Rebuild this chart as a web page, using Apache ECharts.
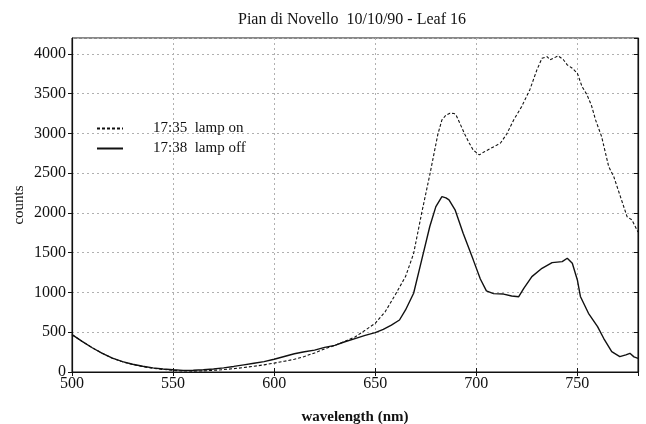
<!DOCTYPE html>
<html>
<head>
<meta charset="utf-8">
<script src="https://cdn.jsdelivr.net/npm/echarts@6/dist/echarts.min.js"></script>
<style>
html,body{margin:0;padding:0;background:#fff;}
#c{width:646px;height:424px;}
</style>
</head>
<body>
<div id="c"></div>
<script>
var titleText = 'Pian di Novello  10/10/90 - Leaf 16';
var seriesNames = ['17:35  lamp on', '17:38  lamp off'];

var wavelengthOn = [500,505,510,515,520,525,530,535,540,545,550,555,560,565,570,575,580,585,590,595,600,605,610,615,620,625,630,635,640,645,650,655,660,665,669,673,677,681,683,685,687,689,690,692,694.5,696.5,698.5,701.5,704,707,710,712,715,718.5,722.5,726.5,730,732.5,735,736.5,738.5,740.5,743,745,747.5,750,752.3,754.8,757,759,762,765.5,768,771.3,774.6,777,779.5,780];
var countsOn = [470,385,305,235,172,128,94,67,47,32,21,13,11,14,21,30,42,56,72,90,112,135,160,195,240,290,335,385,440,525,612,760,975,1200,1490,2000,2480,2990,3170,3230,3255,3250,3230,3120,2980,2880,2790,2730,2770,2810,2850,2880,2990,3170,3340,3550,3800,3945,3965,3925,3950,3975,3930,3862,3820,3757,3590,3484,3350,3170,2960,2583,2457,2205,1953,1912,1786,1760];

var wavelengthOff = [500,505,510,515,520,525,530,535,540,545,550,555,560,565,570,575,580,585,590,595,600,605,610,615,620,625,630,635,640,645,650,654,658,662,665,669,673,677,680,683,685,686.5,689.5,693.5,698.5,702,705,708.5,713.5,717.5,721,723.5,727.5,732.5,737.5,742.5,745,747.5,750,751.5,755.5,760,763,767,771,774,776,778,780];
var countsOff = [470,385,305,235,175,130,97,72,52,38,28,20,22,28,38,52,70,90,110,130,160,195,230,255,275,310,335,380,420,460,495,537,590,654,780,990,1410,1830,2080,2205,2190,2165,2040,1745,1410,1170,1020,985,980,956,947,1052,1199,1304,1375,1388,1430,1367,1157,950,738,570,424,255,193,215,235,190,172];

function pairs(xs, ys){ return xs.map(function(x,i){ return [x, ys[i]]; }); }
function plain(v){ return String(v); }

var FONT = 'Liberation Serif';
var chart = echarts.init(document.getElementById('c'));
chart.setOption({
  animation: false,
  backgroundColor: '#ffffff',
  title: {
    text: titleText, left: 233, top: 7,
    textStyle: {fontFamily: FONT, fontSize: 16, fontWeight: 'normal', color: '#111'}
  },
  legend: {
    orient: 'vertical', left: 91, top: 116,
    itemWidth: 26, itemHeight: 14, itemGap: 5,
    data: seriesNames,
    itemStyle: {opacity: 0},
    textStyle: {fontFamily: FONT, fontSize: 15, color: '#111', padding: [0,0,0,25]}
  },
  grid: {left: 72, right: 8, top: 38, bottom: 52, outerBoundsMode: 'none',
         show: true, borderColor: '#111', borderWidth: 1},
  xAxis: [{
    type: 'value', min: 500, max: 780, interval: 50,
    name: 'wavelength (nm)', nameLocation: 'middle', nameGap: 38, nameMoveOverlap: false,
    nameTextStyle: {fontFamily: FONT, fontSize: 15, color: '#111', fontWeight: 'bold'},
    axisLine: {lineStyle: {color: '#111', width: 1.2}},
    axisTick: {inside: true, length: 4, lineStyle: {color: '#111'}},
    axisLabel: {fontFamily: FONT, fontSize: 16, color: '#111', margin: 4, showMaxLabel: false, formatter: plain},
    splitLine: {show: true, lineStyle: {color: '#b0b0b0', type: [2,3], width: 1}}
  }, {
    type: 'value', min: 500, max: 780, interval: 50, position: 'top',
    axisLine: {lineStyle: {color: '#111'}},
    axisTick: {inside: true, length: 4, lineStyle: {color: '#111'}},
    axisLabel: {show: false}, splitLine: {show: false}
  }],
  yAxis: [{
    type: 'value', min: 0, max: 4200, interval: 500,
    name: 'counts', nameLocation: 'middle', nameGap: 45, nameRotate: 90, nameMoveOverlap: false,
    nameTextStyle: {fontFamily: FONT, fontSize: 15, color: '#111'},
    axisLine: {show: true, lineStyle: {color: '#111', width: 1.2}},
    axisTick: {show: true, inside: false, length: 4, lineStyle: {color: '#111'}},
    axisLabel: {fontFamily: FONT, fontSize: 16, color: '#111', margin: 6, showMaxLabel: false, formatter: plain},
    splitLine: {show: true, lineStyle: {color: '#b0b0b0', type: [2,3], width: 1}}
  }, {
    type: 'value', min: 0, max: 4200, interval: 500, position: 'right',
    axisLine: {show: true, lineStyle: {color: '#111', width: 1.2}},
    axisTick: {show: true, inside: true, length: 4, lineStyle: {color: '#111'}},
    axisLabel: {show: false}, splitLine: {show: false}
  }],
  series: [{
    name: seriesNames[0], type: 'line', showSymbol: false, symbol: 'none',
    data: pairs(wavelengthOn, countsOn),
    lineStyle: {color: '#111', width: 1.1, type: [3,2]},
    itemStyle: {color: '#111'}
  }, {
    name: seriesNames[1], type: 'line', showSymbol: false, symbol: 'none',
    data: pairs(wavelengthOff, countsOff),
    lineStyle: {color: '#111', width: 1.4, type: 'solid'},
    itemStyle: {color: '#111'}
  }]
});
</script>
</body>
</html>
